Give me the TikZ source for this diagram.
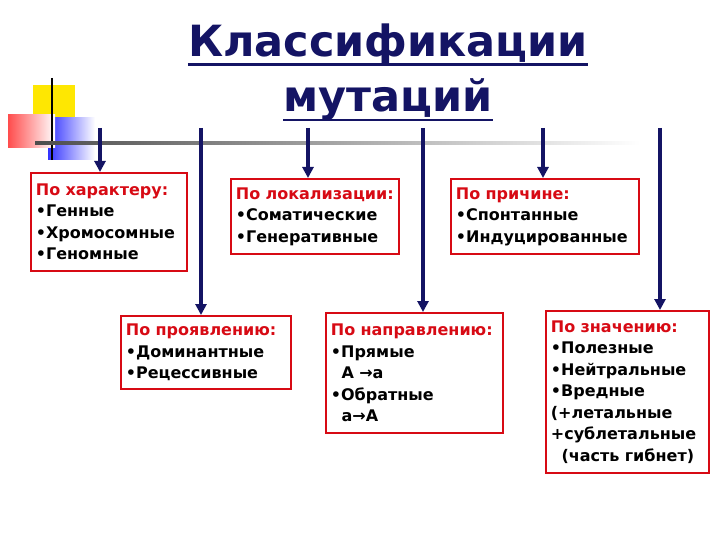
\documentclass[tikz,border=0pt]{standalone}
\usepackage{fontspec}
\setmainfont{DejaVu Sans}
\usetikzlibrary{arrows.meta}
\definecolor{navy}{RGB}{20,20,100}
\definecolor{rd}{RGB}{215,10,20}
\tikzset{
 box/.style={draw=rd,line width=1.8pt,anchor=north west,align=left,inner xsep=5pt,inner ysep=4pt,
   font=\fontsize{16}{21.5}\selectfont\bfseries},
 arr/.style={navy,line width=3.2pt,-{Triangle[length=11pt,width=11pt]}},
}
\newcommand{\hd}[1]{\textcolor{rd}{#1}}
\newcommand{\ul}[1]{\tikz[baseline=(u.base)]{\node[inner sep=0pt](u){#1};\draw[line width=2.5pt] ([yshift=-8pt]u.base west)--([yshift=-8pt]u.base east);}}
\begin{document}
\begin{tikzpicture}[x=1pt,y=-1pt]
\useasboundingbox (0,0) rectangle (720,540);
% decoration
\fill[yellow!90!orange] (33,85) rectangle (75,125);
\shade[left color=blue!80,right color=white] (48,118) rectangle (95,160);
\shade[left color=red!70,right color=white] (8,115) rectangle (55,148);
\draw[black,line width=1.5pt] (52,78) -- (52,160);
\shade[left color=gray!60!black,right color=white] (35,141.5) rectangle (640,144.5);
% title
\node[navy,font=\fontsize{43}{48}\selectfont\bfseries] (t1) at (388,45) {\ul{Классификации}};
\node[navy,font=\fontsize{43}{48}\selectfont\bfseries] (t2) at (388,100) {\ul{мутаций}};
% boxes
\node[box,text width=146pt,minimum height=98pt] (b1) at (30,172) {\hd{По характеру:}\\•Генные\\•Хромосомные\\•Геномные};
\node[box,text width=158pt,minimum height=75pt] (b2) at (230,178) {\hd{По локализации:}\\•Соматические\\•Генеративные};
\node[box,text width=178pt,minimum height=75pt] (b3) at (450,178) {\hd{По причине:}\\•Спонтанные\\•Индуцированные};
\node[box,text width=160pt,minimum height=73pt] (b4) at (120,315) {\hd{По проявлению:}\\•Доминантные\\•Рецессивные};
\node[box,text width=167pt,minimum height=120pt] (b5) at (325,312) {\hd{По направлению:}\\•Прямые\\\ \ A \textrightarrow a\\•Обратные\\\ \ a\textrightarrow A};
\node[box,text width=153pt,minimum height=162pt] (b6) at (545,310) {\hd{По значению:}\\•Полезные\\•Нейтральные\\•Вредные\\(+летальные\\+сублетальные\\\ \ (часть гибнет)};
% arrows
\coordinate (s1) at (100,128); \coordinate (s2) at (201,128); \coordinate (s3) at (308,128);
\coordinate (s4) at (423,128); \coordinate (s5) at (543,128); \coordinate (s6) at (660,128);
\draw[arr] (s1) -- (s1 |- b1.north);
\draw[arr] (s2) -- (s2 |- b4.north);
\draw[arr] (s3) -- (s3 |- b2.north);
\draw[arr] (s4) -- (s4 |- b5.north);
\draw[arr] (s5) -- (s5 |- b3.north);
\draw[arr] (s6) -- (s6 |- b6.north);
\end{tikzpicture}
\end{document}
